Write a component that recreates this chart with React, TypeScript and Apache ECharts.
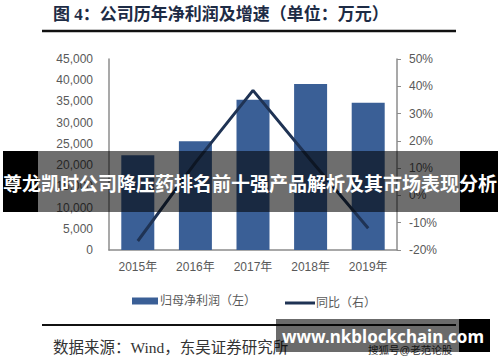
import React, { useEffect, useRef } from "react";
import * as echarts from "echarts";

const years = ["2015年", "2016年", "2017年", "2018年", "2019年"];
const netProfit = [22300, 25600, 35400, 39100, 34700];
const yoyGrowth = [-16.7, 12, 38.5, 13, -12];
const leftAxis = { min: 0, max: 45000, interval: 5000 };
const rightAxis = { min: -20, max: 50, interval: 10 };
const seriesNames = ["归母净利润（左）", "同比（右）"];
const titleText = "图 4：公司历年净利润及增速（单位：万元）";
const sourceText = "数据来源：Wind，东吴证券研究所";
const bannerText = "尊龙凯时公司降压药排名前十强产品解析及其市场表现分析";
const watermarkText = "www.nkblockchain.com";
const faintText = "搜狐号@老范论股";

const BAR = "#3a5f96";
const LINE = "#1f3354";
const LABEL = "#595959";
const AXIS = "#8c8c8c";

export default function App() {
  const ref = useRef<HTMLDivElement>(null);
  useEffect(() => {
    if (!ref.current) return;
    const chart = echarts.init(ref.current, null, { renderer: "svg" });
    const serifMix = "'Liberation Serif', 'Noto Sans CJK SC', serif";
    const sans = "'Liberation Sans', 'Noto Sans CJK SC', sans-serif";
    chart.setOption({
      animation: false,
      backgroundColor: "#ffffff",
      grid: { left: 109, right: 103, top: 59, bottom: 112, containLabel: false },
      legend: [
        {
          data: [{ name: seriesNames[0], icon: "rect" }],
          left: 127,
          top: 290,
          itemWidth: 26,
          itemHeight: 7,
          textStyle: { color: LABEL, fontSize: 12, fontFamily: sans, padding: [0, 0, 0, -3] },
        },
        {
          data: [{ name: seriesNames[1], icon: "rect" }],
          left: 280,
          top: 292,
          itemWidth: 30,
          itemHeight: 3,
          textStyle: { color: LABEL, fontSize: 12, fontFamily: sans, padding: [0, 0, 0, -4] },
        },
      ],
      xAxis: {
        type: "category",
        data: years,
        axisLine: { show: true, lineStyle: { color: AXIS, width: 1.5 } },
        axisTick: { show: false },
        axisLabel: { color: LABEL, fontSize: 12, fontFamily: sans, margin: 11 },
      },
      yAxis: [
        {
          type: "value",
          min: leftAxis.min,
          max: leftAxis.max,
          interval: leftAxis.interval,
          position: "left",
          axisLine: { show: true, lineStyle: { color: AXIS, width: 1.5 } },
          axisTick: { show: false },
          splitLine: { show: false },
          axisLabel: {
            color: LABEL,
            fontSize: 12,
            fontFamily: sans,
            margin: 16,
            formatter: (v: number) => v.toLocaleString("en-US"),
          },
        },
        {
          type: "value",
          min: rightAxis.min,
          max: rightAxis.max,
          interval: rightAxis.interval,
          position: "right",
          axisLine: { show: true, lineStyle: { color: AXIS, width: 1.5 } },
          axisTick: { show: true, length: 4, lineStyle: { color: AXIS } },
          splitLine: { show: false },
          axisLabel: {
            color: LABEL,
            fontSize: 12,
            fontFamily: sans,
            margin: 12,
            formatter: (v: number) => v + "%",
          },
        },
      ],
      series: [
        {
          name: seriesNames[0],
          type: "bar",
          data: netProfit,
          barWidth: 33,
          itemStyle: { color: BAR },
          z: 2,
        },
        {
          name: seriesNames[1],
          type: "line",
          yAxisIndex: 1,
          data: yoyGrowth,
          symbol: "none",
          lineStyle: { color: LINE, width: 3 },
          itemStyle: { color: LINE },
          z: 3,
        },
      ],
      graphic: [
        {
          type: "text",
          left: 53,
          top: 6,
          z: 50,
          style: { text: titleText, fontSize: 17, fontWeight: "bold", fill: "#1d2b45", fontFamily: serifMix },
        },
        {
          type: "line",
          z: 50,
          shape: { x1: 42, y1: 31, x2: 456, y2: 31 },
          style: { stroke: "#111", lineWidth: 2.5 },
        },
        {
          type: "line",
          z: 50,
          shape: { x1: 42, y1: 325, x2: 456, y2: 325 },
          style: { stroke: "#111", lineWidth: 2 },
        },
        {
          type: "text",
          left: 53,
          top: 340,
          z: 50,
          style: { text: sourceText, fontSize: 15.5, fill: "#333", fontFamily: serifMix },
        },
        {
          type: "text",
          left: 368,
          top: 345,
          z: 50,
          style: { text: faintText, fontSize: 10.5, fill: "#333", fontFamily: sans },
        },
        {
          type: "rect",
          z: 100,
          shape: { x: 3, y: 151, width: 35, height: 61 },
          style: { fill: "#000" },
        },
        {
          type: "rect",
          z: 100,
          shape: { x: 38, y: 151, width: 422, height: 61 },
          style: { fill: "rgba(0,0,0,0.57)" },
        },
        {
          type: "rect",
          z: 100,
          shape: { x: 460, y: 151, width: 38, height: 61 },
          style: { fill: "#000" },
        },
        {
          type: "text",
          z: 101,
          x: 250,
          y: 182,
          style: {
            text: bannerText,
            fontSize: 19,
            fontWeight: "bold",
            fill: "#fff",
            align: "center",
            verticalAlign: "middle",
            fontFamily: "'Noto Sans CJK SC', sans-serif",
          },
        },
        {
          type: "rect",
          z: 100,
          shape: { x: 276, y: 319, width: 183, height: 33 },
          style: { fill: "rgba(0,0,0,0.58)" },
        },
        {
          type: "rect",
          z: 100,
          shape: { x: 459, y: 319, width: 31, height: 33 },
          style: { fill: "#000" },
        },
        {
          type: "text",
          z: 101,
          x: 383,
          y: 336,
          style: {
            text: watermarkText,
            fontSize: 17,
            fontWeight: "bold",
            fill: "#fff",
            align: "center",
            verticalAlign: "middle",
            fontFamily: "'Noto Sans', 'Open Sans', sans-serif",
          },
        },
      ],
    });
    return () => chart.dispose();
  }, []);
  return (
    <div
      ref={ref}
      style={{ position: "absolute", left: 0, top: 0, width: 500, height: 362 }}
    />
  );
}
